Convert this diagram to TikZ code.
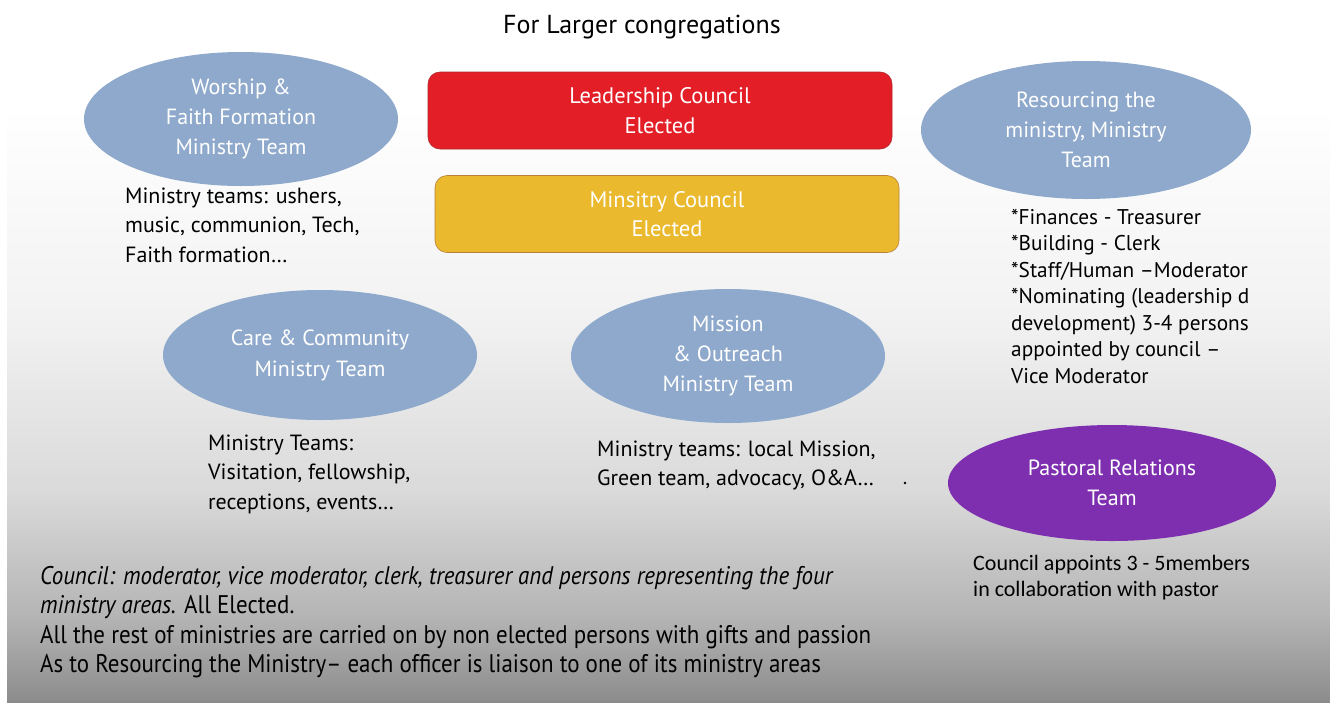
\documentclass[tikz,border=0pt]{standalone}
\usepackage{fontspec}
\setmainfont{PT Sans}
\newfontfamily\condfont[FakeStretch=0.9,Ligatures=TeX]{PT Sans}
\newfontfamily\calfont{Carlito}
\usetikzlibrary{shapes.geometric}
\definecolor{ellblue}{HTML}{8EA9CB}
\definecolor{leadred}{HTML}{E31E27}
\definecolor{leadredb}{HTML}{B0262A}
\definecolor{minyel}{HTML}{EAB92D}
\definecolor{minyelb}{HTML}{B8803A}
\definecolor{prpl}{HTML}{7E2FAF}
\definecolor{bgA}{HTML}{FFFFFF}
\definecolor{bgB}{HTML}{F2F2F2}
\definecolor{bgC}{HTML}{DADADA}
\definecolor{bgD}{HTML}{B4B4B4}
\definecolor{bgE}{HTML}{8C8C8C}
\pgfdeclareverticalshading{slidebg}{100bp}{color(0bp)=(bgE); color(25bp)=(bgE); color(31bp)=(bgD); color(40bp)=(bgC); color(52.5bp)=(bgB); color(67.5bp)=(bgA); color(100bp)=(bgA)}
\tikzset{
  blob/.style={ellipse, fill=ellblue, inner sep=0pt, text=white, align=center, font=\fontsize{22}{30}\selectfont},
  council/.style={rounded corners=12pt, line width=0.6pt, inner sep=0pt, text=white, align=center, minimum width=464pt, minimum height=77pt, font=\fontsize{22.5}{29.5}\selectfont},
  note/.style={anchor=base west, align=left, inner sep=0pt, text=black, font=\fontsize{22}{29.5}\selectfont},
}
\begin{document}
\begin{tikzpicture}[x=1pt,y=-1pt]
\useasboundingbox (0,0) rectangle (1330,702);
\fill[white] (0,0) rectangle (1330,702);
\shade[shading=slidebg] (7,0) rectangle (1330,702);

\node[font=\fontsize{26}{30}\selectfont] (title) at (642,27) {For Larger congregations};

\node[council, fill=leadred, draw=leadredb] (lead) at (660,110.5) {Leadership Council\\Elected};
\node[council, fill=minyel, draw=minyelb] (mincouncil) at (667,214) {Minsitry Council\\Elected};

\node[blob, minimum width=314pt, minimum height=134pt] (worship) at (241,119) {Worship \&\\Faith Formation\\Ministry Team};
\node[note] (worshipnote) at (125,262) {Ministry teams: ushers,\\music, communion, Tech,\\Faith formation\dots};

\node[blob, minimum width=330pt, minimum height=138pt] (resourcing) at (1086,130) {Resourcing the\\ministry, Ministry\\Team};
\node[note, font=\fontsize{21.3}{26.5}\selectfont] (resnote) at (1011,383) {*Finances - Treasurer\\*Building - Clerk\\*Staff/Human --Moderator\\*Nominating (leadership d\\development) 3-4 persons\\appointed by council --\\Vice Moderator};

\node[blob, minimum width=314pt, minimum height=130pt, font=\fontsize{22}{31}\selectfont] (care) at (320,355) {Care \& Community\\Ministry Team};
\node[note] (carenote) at (208,509) {Ministry Teams:\\Visitation, fellowship,\\receptions, events\dots};

\node[blob, minimum width=314pt, minimum height=134pt] (mission) at (728,356) {Mission\\\& Outreach\\Ministry Team};
\node[note] (missionnote) at (597,485.5) {Ministry teams: local Mission,\\Green team, advocacy, O\&A\dots};

\node[blob, fill=prpl, minimum width=328pt, minimum height=116pt] (pastoral) at (1112,483) {Pastoral Relations\\Team};
\fill (905,483) circle (1.3pt);
\node[note, font=\calfont\fontsize{22}{26}\selectfont] (pastnote) at (973,596) {Council appoints 3 - 5members\\in collaboration with pastor};

\node[note, font=\condfont\fontsize{25.5}{29.5}\selectfont] (footer) at (40,672.5) {\textit{Council: moderator, vice moderator, clerk, treasurer and persons representing the four}\\\textit{ministry areas.} All Elected.\\All the rest of ministries are carried on by non elected persons with gifts and passion\\As to Resourcing the Ministry– each officer is liaison to one of its ministry areas};
\end{tikzpicture}
\end{document}
